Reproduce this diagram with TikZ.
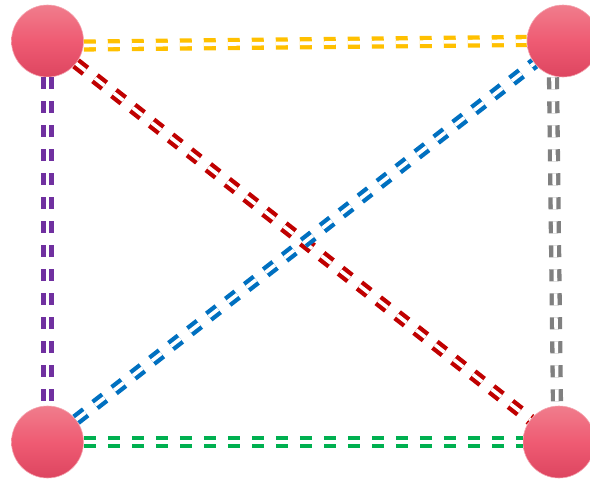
\documentclass[tikz,border=0pt]{standalone}
\usepackage{xcolor}
\usetikzlibrary{calc}

\definecolor{linkyellow}{HTML}{FFC000}
\definecolor{linkpurple}{HTML}{7030A0}
\definecolor{linkgray}{HTML}{808080}
\definecolor{linkgreen}{HTML}{00B050}
\definecolor{linkred}{HTML}{C00000}
\definecolor{linkblue}{HTML}{0070C0}
\definecolor{vtxtop}{HTML}{F07D8C}
\definecolor{vtxmid}{HTML}{EF5B73}
\definecolor{vtxbot}{HTML}{DD4560}

\begin{document}
\begin{tikzpicture}[x=1pt, y=-1pt,
  vertex/.style={circle, minimum size=72pt, inner sep=0pt, draw=vtxtop!70, line width=0.6pt,
    top color=vtxtop, bottom color=vtxbot, middle color=vtxmid},
  link/.style={line width=4.3pt, double=white, double distance=3.6pt, dash pattern=on 12pt off 12pt}]
  \useasboundingbox (0,0) rectangle (590,482);
  \node[vertex] (tl) at (47.5,41) {};
  \node[vertex] (tr) at (563,41) {};
  \node[vertex] (bl) at (47.5,442) {};
  \node[vertex] (br) at (559,442) {};
  \draw[link, linkyellow] ([yshift=-4.5pt]tl.east) -- (tr.west);
  \draw[link, linkpurple] (tl) -- (bl);
  \draw[link, linkgray] ([xshift=-10pt]tr.south) -- ([xshift=-2pt]br.north);
  \draw[link, linkgreen] (bl) -- (br);
  \draw[link, linkred] (tl) -- (br);
  \draw[link, linkblue] (bl) -- (tr);
\end{tikzpicture}
\end{document}
